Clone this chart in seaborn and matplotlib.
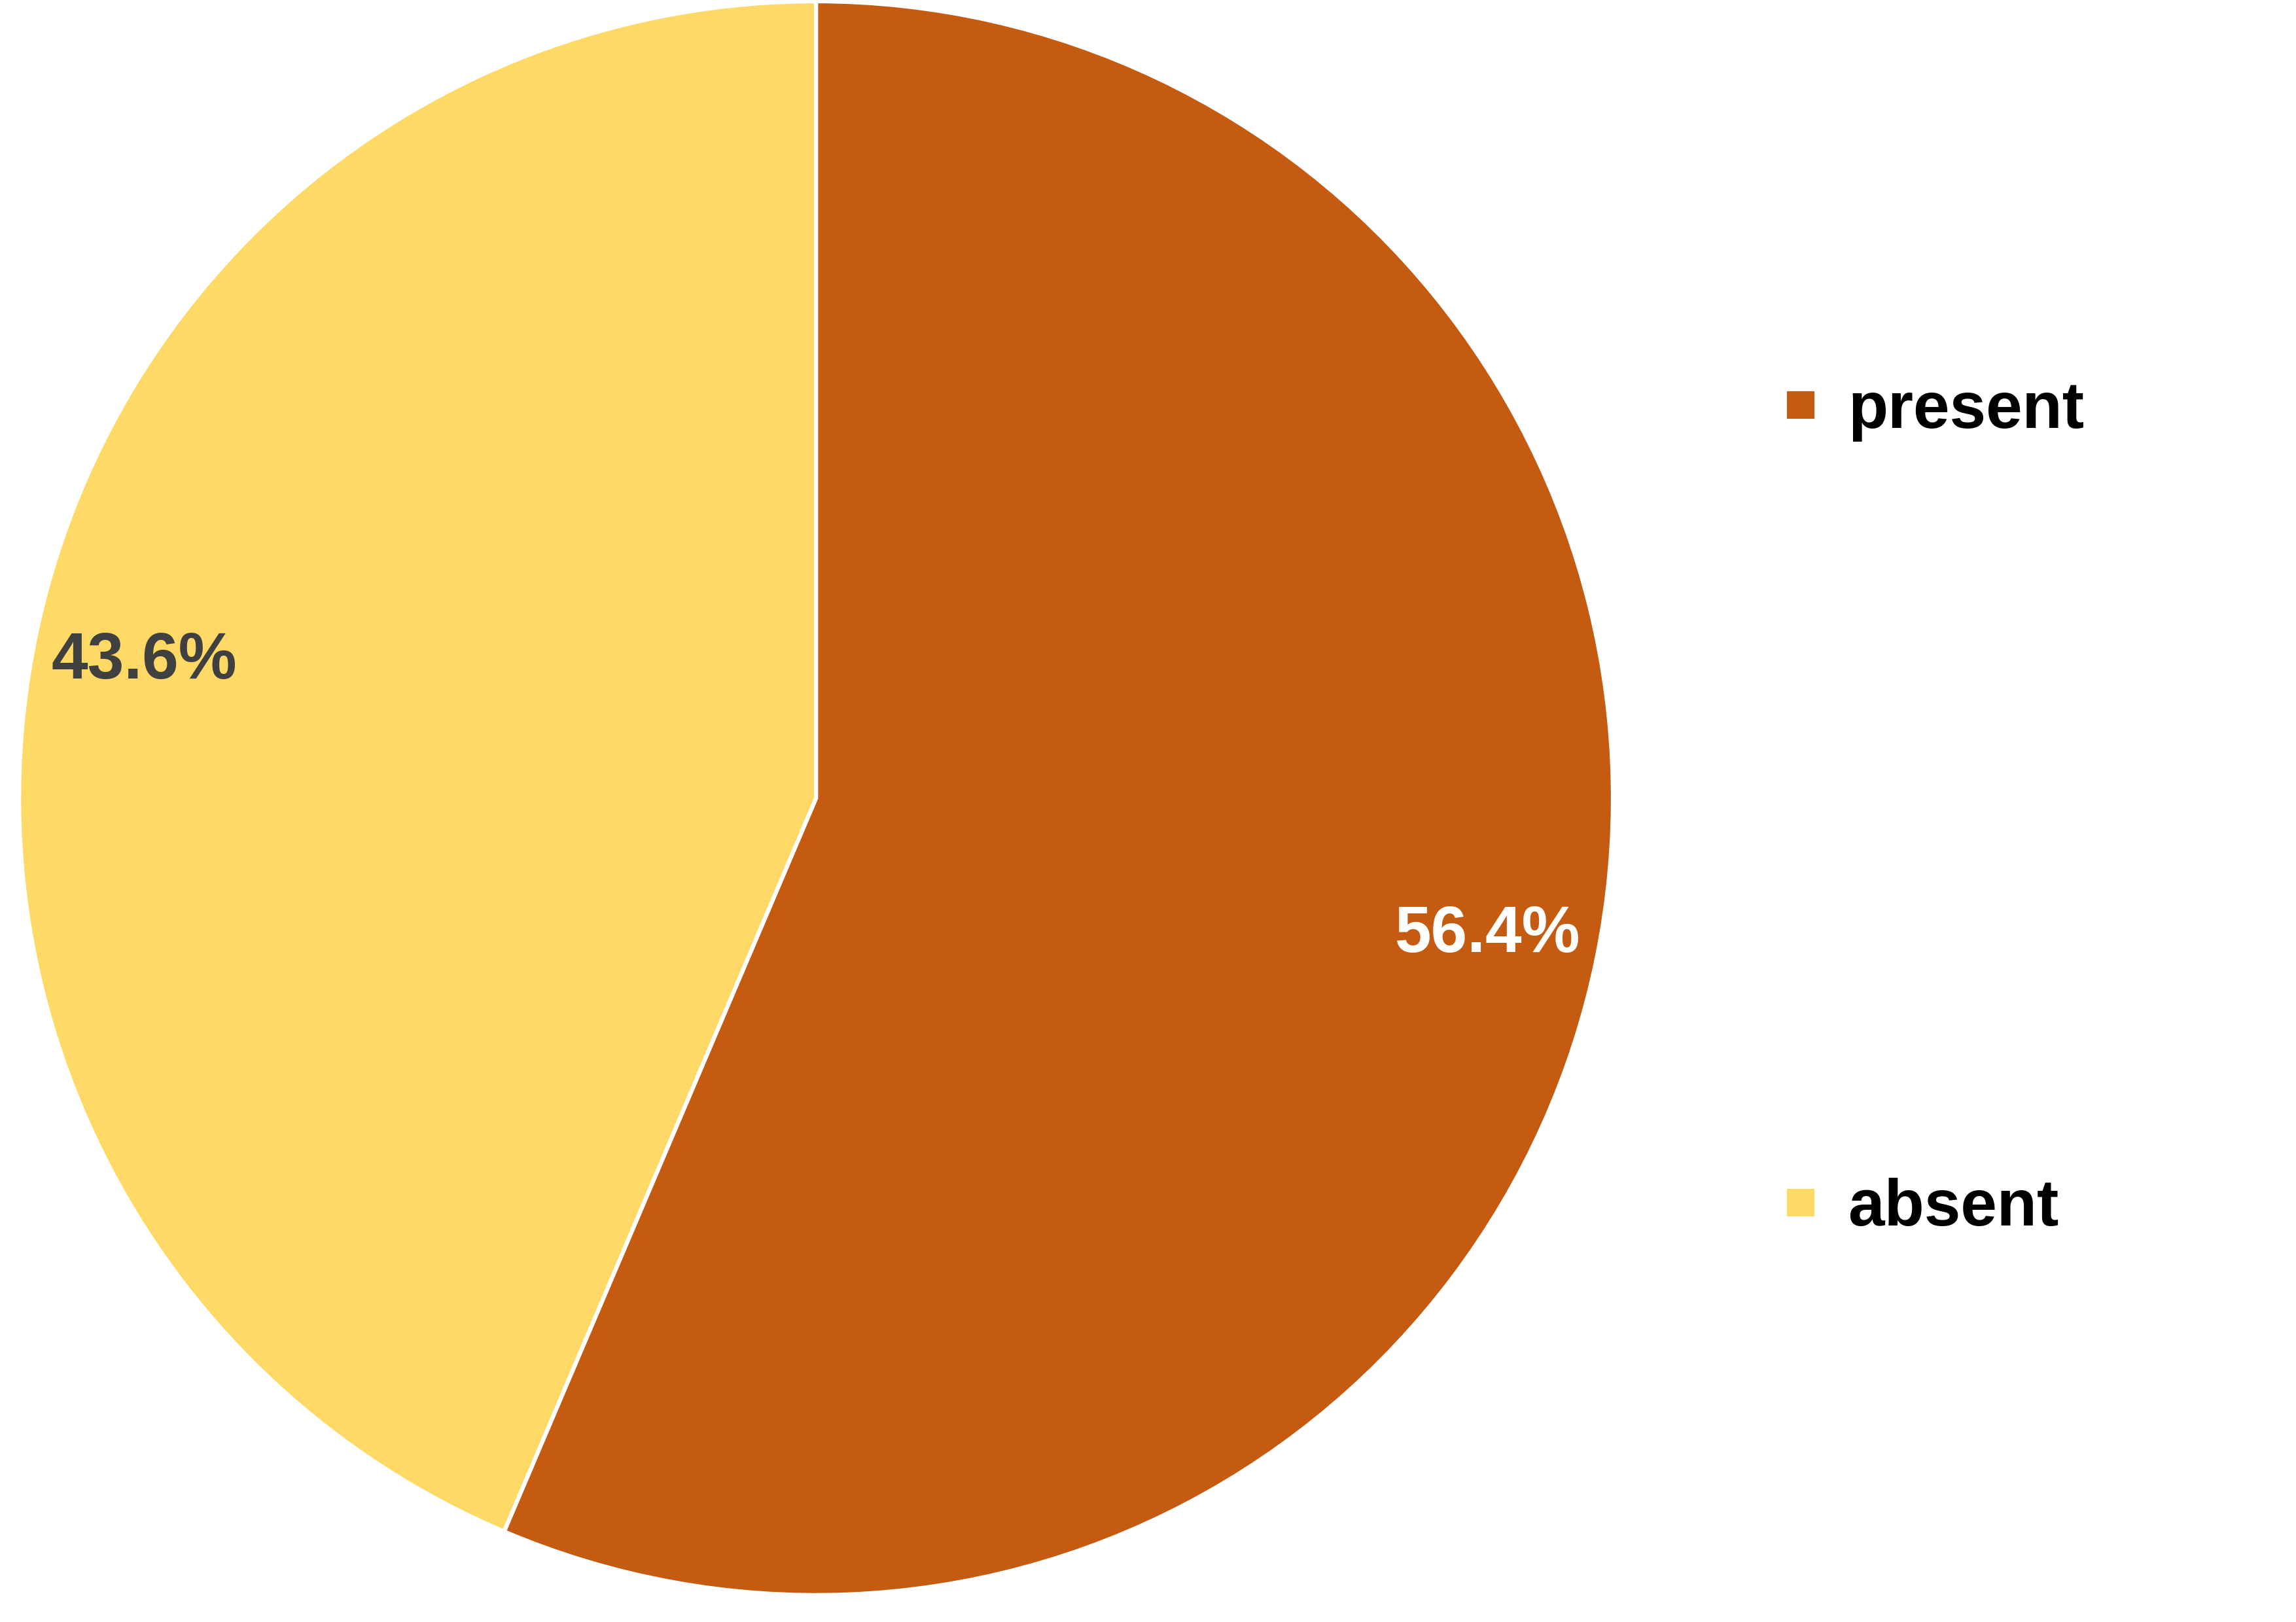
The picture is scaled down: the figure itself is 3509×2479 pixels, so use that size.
"""
Pie chart - present vs absent share
"""

import matplotlib
matplotlib.use("Agg")
import matplotlib.pyplot as plt
from matplotlib.lines import Line2D
import seaborn as sns

sns.set_theme(style="white")
plt.rcParams["font.family"] = ["Liberation Sans", "DejaVu Sans"]

# ── Data ───────────────────────────────────────────────────────────────────────

categories = ["present", "absent"]
shares = [56.4, 43.6]
colors = ["#C55A11", "#FFD966"]
label_colors = ["white", "#404040"]

# ── Plot ───────────────────────────────────────────────────────────────────────

fig = plt.figure(figsize=(3509 / 300, 2479 / 300), dpi=300)
ax = fig.add_axes([0.0083, 0.0166, 0.6942, 0.9826])

wedges, texts, autotexts = ax.pie(
    shares, colors=colors, startangle=90, counterclock=False,
    autopct="%.1f%%", pctdistance=0.86,
    wedgeprops=dict(edgecolor="white", linewidth=1.5),
    textprops=dict(fontsize=24, fontweight="bold"),
)
for t, c in zip(autotexts, label_colors):
    t.set_color(c)

ax.set_xlim(-1, 1)
ax.set_ylim(-1, 1)
ax.set_aspect("equal")
ax.axis("off")

handles = [Line2D([0], [0], marker="s", linestyle="none", markersize=9.1,
                  markerfacecolor=c, markeredgecolor=c) for c in colors]
leg = fig.legend(handles, categories, loc="center left", bbox_to_anchor=(0.770, 0.501),
                 frameon=False, borderpad=0, borderaxespad=0, handlelength=1,
                 handletextpad=0.22, labelspacing=11.25,
                 prop=dict(size=24, weight="bold"))
for t in leg.get_texts():
    t.set_color("black")

fig.savefig("out.png", dpi=300, facecolor="white")
plt.close(fig)
